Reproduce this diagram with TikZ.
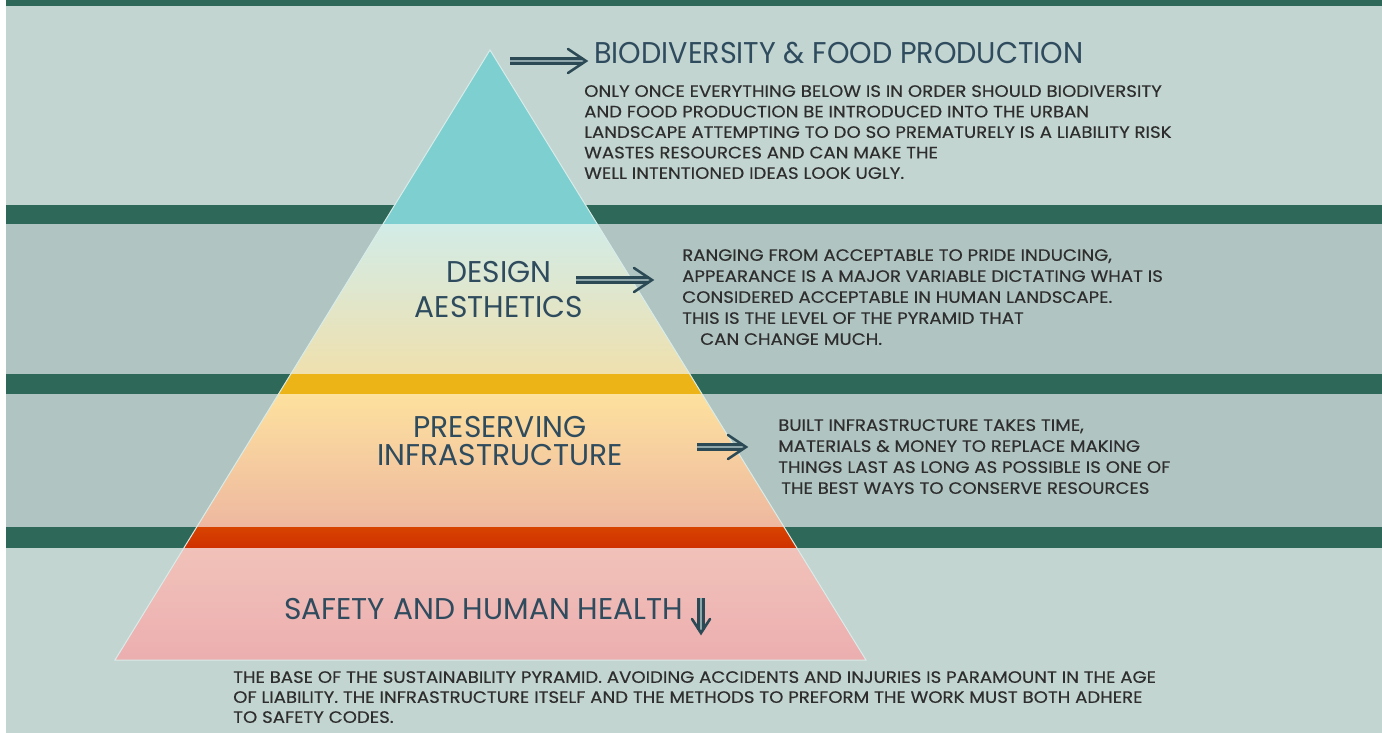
\documentclass[tikz,border=0pt]{standalone}
\usepackage{fontspec}
\usetikzlibrary{calc}
\newfontfamily\ttlfont[FakeStretch=0.99]{Poppins}
\newfontfamily\toptlfont[FakeStretch=0.955]{Poppins}
\newfontfamily\bdyfont[FakeStretch=1.1,FakeBold=0.4]{Poppins}
\definecolor{bandlight}{HTML}{C3D5D1}
\definecolor{banddark}{HTML}{B0C5C2}
\definecolor{stripe}{HTML}{2D6858}
\definecolor{tealc}{HTML}{7ECFCF}
\definecolor{ttlcol}{HTML}{2F4B5E}
\definecolor{bdycol}{HTML}{2E2E2E}
\definecolor{arrc}{HTML}{2C4A56}
\definecolor{arrin}{HTML}{8FA7AA}
\definecolor{dTop}{HTML}{D2ECE7}
\definecolor{dBot}{HTML}{EFE0AE}
\definecolor{gold}{HTML}{ECB417}
\definecolor{pTop}{HTML}{FDE19E}
\definecolor{pBot}{HTML}{EEB8A0}
\definecolor{rTop}{HTML}{D84400}
\definecolor{rBot}{HTML}{CF3000}
\definecolor{sTop}{HTML}{F1C2B9}
\definecolor{sBot}{HTML}{ECAEB0}
\definecolor{edgec}{HTML}{D8ECEA}
\tikzset{
  ttl/.style={inner sep=0pt, text=ttlcol, font=\ttlfont\fontsize{30}{35}\selectfont},
  bdy/.style={inner sep=0pt, text=bdycol, align=left, anchor=north west},
  shaft/.style={draw=arrc, line width=2.4pt, double=arrin, double distance=2.6pt},
  chev/.style={draw=arrc, line width=2.6pt, line cap=round, line join=miter}
}
\begin{document}
\begin{tikzpicture}[x=1pt,y=-1pt]
\useasboundingbox (0,0) rectangle (1382,733);
\fill[white] (0,0) rectangle (1382,733);
\fill[bandlight] (6,0) rectangle (1382,733);
\fill[banddark] (6,224) rectangle (1382,374);
\fill[banddark] (6,394) rectangle (1382,527);
\fill[stripe] (6,0) rectangle (1382,6);
\fill[stripe] (6,205) rectangle (1382,224);
\fill[stripe] (6,374) rectangle (1382,394);
\fill[stripe] (6,527) rectangle (1382,548);
% pyramid
\coordinate (apex) at (490,50);
\coordinate (bl) at (115,660);
\coordinate (br) at (866,660);
\begin{scope}
\clip (apex) -- (bl) -- (br) -- cycle;
\fill[tealc] (100,40) rectangle (900,224);
\shade[top color=dTop, bottom color=dBot] (100,224) rectangle (900,374);
\fill[gold] (100,374) rectangle (900,394);
\shade[top color=pTop, bottom color=pBot] (100,394) rectangle (900,527);
\shade[top color=rTop, bottom color=rBot] (100,527) rectangle (900,548);
\shade[top color=sTop, bottom color=sBot] (100,548) rectangle (900,661);
\end{scope}
\draw[edgec, line width=1pt, line join=miter] (apex) -- (bl) -- (br) -- cycle;

% titles
\node[ttl, anchor=west, font=\toptlfont\fontsize{30}{35}\selectfont] (bio) at (594,53) {BIODIVERSITY \& FOOD PRODUCTION};
\node[ttl, align=center] (des) at (499,289.5) {DESIGN\\AESTHETICS};
\node[ttl, align=center, font=\ttlfont\fontsize{30}{28}\selectfont] (pres) at (500,441.5) {PRESERVING\\INFRASTRUCTURE};
\node[ttl, anchor=west] (saf) at (284,609) {SAFETY AND HUMAN HEALTH};

% body texts
\node[bdy, font=\bdyfont\fontsize{16.5}{20.5}\selectfont] (t1) at (584,85) {ONLY ONCE EVERYTHING BELOW IS IN ORDER SHOULD BIODIVERSITY\\AND FOOD PRODUCTION BE INTRODUCED INTO THE URBAN\\LANDSCAPE ATTEMPTING TO DO SO PREMATURELY IS A LIABILITY RISK\\WASTES RESOURCES AND CAN MAKE THE\\WELL INTENTIONED IDEAS LOOK UGLY.};
\node[bdy, font=\bdyfont\fontsize{16.5}{21}\selectfont] (t2) at (682,249) {RANGING FROM ACCEPTABLE TO PRIDE INDUCING,\\APPEARANCE IS A MAJOR VARIABLE DICTATING WHAT IS\\CONSIDERED ACCEPTABLE IN HUMAN LANDSCAPE.\\THIS IS THE LEVEL OF THE PYRAMID THAT\\\hspace*{18pt}CAN CHANGE MUCH.};
\node[bdy, font=\bdyfont\fontsize{16.5}{21}\selectfont] (t3) at (778,419) {BUILT INFRASTRUCTURE TAKES TIME,\\MATERIALS \& MONEY TO REPLACE MAKING\\THINGS LAST AS LONG AS POSSIBLE IS ONE OF\\\hspace*{3pt}THE BEST WAYS TO CONSERVE RESOURCES};
\node[bdy, font=\bdyfont\fontsize{16.5}{20}\selectfont] (t4) at (233,671) {THE BASE OF THE SUSTAINABILITY PYRAMID. AVOIDING ACCIDENTS AND INJURIES IS PARAMOUNT IN THE AGE\\OF LIABILITY. THE INFRASTRUCTURE ITSELF AND THE METHODS TO PREFORM THE WORK MUST BOTH ADHERE\\TO SAFETY CODES.};

% arrows
\coordinate (a1s) at (510,61); \coordinate (a1e) at (586,61);
\draw[shaft] (a1s) -- ($(a1e)+(-3,0)$);
\draw[chev] ($(a1e)+(-18,-12)$) -- (a1e) -- ($(a1e)+(-18,12)$);
\coordinate (a2s) at (576,280); \coordinate (a2e) at (652,280);
\draw[shaft] (a2s) -- ($(a2e)+(-3,0)$);
\draw[chev] ($(a2e)+(-18,-12)$) -- (a2e) -- ($(a2e)+(-18,12)$);
\coordinate (a3s) at (697,447); \coordinate (a3e) at (746,447);
\draw[shaft] (a3s) -- ($(a3e)+(-3,0)$);
\draw[chev] ($(a3e)+(-18,-12)$) -- (a3e) -- ($(a3e)+(-18,12)$);
\coordinate (a4s) at (701,598); \coordinate (a4e) at (701,633);
\draw[shaft] (a4s) -- ($(a4e)+(0,-3)$);
\draw[chev] ($(a4e)+(-9,-14)$) -- (a4e) -- ($(a4e)+(9,-14)$);
\end{tikzpicture}
\end{document}
